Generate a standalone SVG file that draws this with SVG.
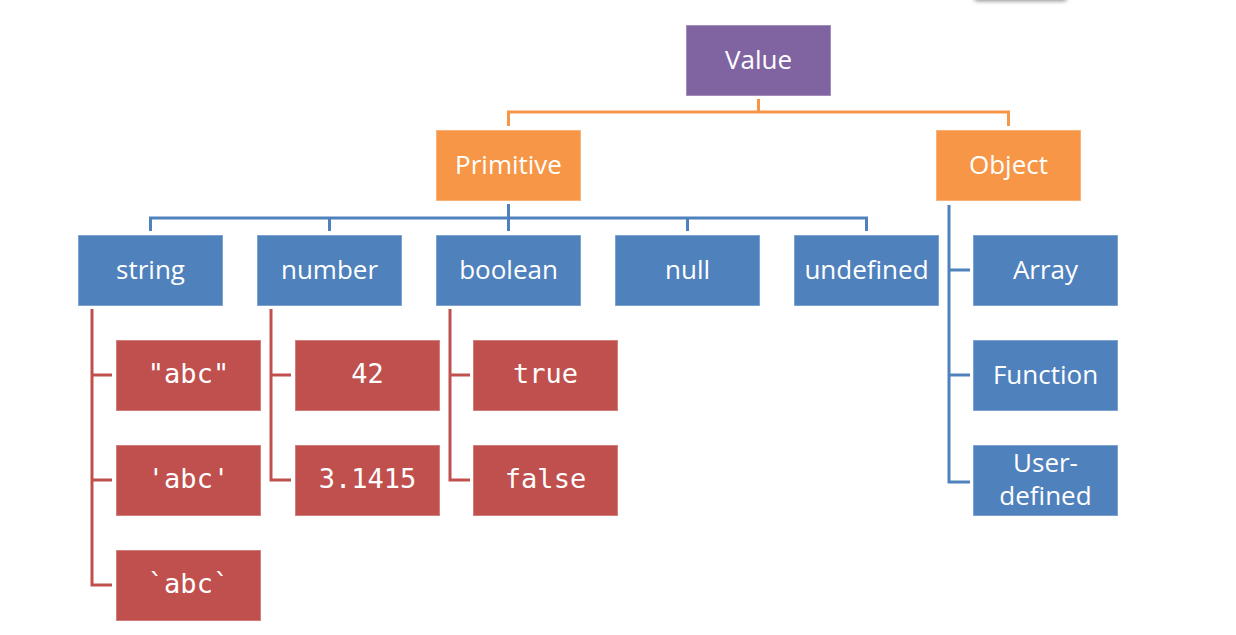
<svg xmlns="http://www.w3.org/2000/svg" width="1236" height="635" viewBox="0 0 1236 635">
<defs>
<style>
.box{stroke:#ffffff;stroke-opacity:0.35;stroke-width:1.5}
.purple{fill:#8064A2}
.orange{fill:#F79646}
.blue{fill:#4F81BD}
.red{fill:#C0504D}
.t{font-family:"Open Sans","Liberation Sans",sans-serif;font-size:26px;fill:#ffffff;text-anchor:middle}
.m{font-family:"DejaVu Sans Mono","Liberation Mono",monospace;font-size:27px;fill:#ffffff;text-anchor:middle}
.lo{fill:none;stroke:#F79646;stroke-width:3}
.lb{fill:none;stroke:#4F81BD;stroke-width:3}
.lr{fill:none;stroke:#C0504D;stroke-width:3}
</style>
<filter id="blur" x="-20%" y="-200%" width="140%" height="500%"><feGaussianBlur stdDeviation="2"/></filter>
</defs>
<rect width="1236" height="635" fill="#ffffff"/>
<rect x="974" y="-12" width="93" height="13" rx="4" fill="#8a8a8a" filter="url(#blur)"/>
<g id="connectors">
<path class="lo" d="M758.5 99V112M508.5 112H1008.5M508.5 110.5V126M1008.5 110.5V126"/>
<path class="lb" d="M508.5 204V218M150.5 218H866.5M150.5 216.5V231M329.5 216.5V231M508.5 216.5V231M687.5 216.5V231M866.5 216.5V231"/>
<path class="lb" d="M949 205V482H970M949 270H970M949 375H970"/>
<path class="lr" d="M92 309V585H112M92 375H112M92 480H112"/>
<path class="lr" d="M271 309V480H291M271 375H291"/>
<path class="lr" d="M450 309V480H470M450 375H470"/>
</g>
<g id="value"><rect class="box purple" x="686" y="25" width="145" height="71"/><text class="t" x="758.5" y="69">Value</text></g>
<g id="primitive"><rect class="box orange" x="436" y="130" width="145" height="71"/><text class="t" x="508.5" y="174">Primitive</text></g>
<g id="object"><rect class="box orange" x="936" y="130" width="145" height="71"/><text class="t" x="1008.5" y="174">Object</text></g>
<g id="string"><rect class="box blue" x="78" y="235" width="145" height="71"/><text class="t" x="150.5" y="279">string</text></g>
<g id="number"><rect class="box blue" x="257" y="235" width="145" height="71"/><text class="t" x="329.5" y="279">number</text></g>
<g id="boolean"><rect class="box blue" x="436" y="235" width="145" height="71"/><text class="t" x="508.5" y="279">boolean</text></g>
<g id="null"><rect class="box blue" x="615" y="235" width="145" height="71"/><text class="t" x="687.5" y="279">null</text></g>
<g id="undefined"><rect class="box blue" x="794" y="235" width="145" height="71"/><text class="t" x="866.5" y="279">undefined</text></g>
<g id="array"><rect class="box blue" x="973" y="235" width="145" height="71"/><text class="t" x="1045.5" y="279">Array</text></g>
<g id="function"><rect class="box blue" x="973" y="340" width="145" height="71"/><text class="t" x="1045.5" y="384">Function</text></g>
<g id="userdefined"><rect class="box blue" x="973" y="445" width="145" height="71"/><text class="t" x="1045.5" y="472">User-</text><text class="t" x="1045.5" y="505">defined</text></g>
<g id="dq"><rect class="box red" x="116" y="340" width="145" height="71"/><text class="m" x="188.5" y="383">"abc"</text></g>
<g id="sq"><rect class="box red" x="116" y="445" width="145" height="71"/><text class="m" x="188.5" y="488">'abc'</text></g>
<g id="bq"><rect class="box red" x="116" y="550" width="145" height="71"/><text class="m" x="188.5" y="593">`abc`</text></g>
<g id="n42"><rect class="box red" x="295" y="340" width="145" height="71"/><text class="m" x="367.5" y="383">42</text></g>
<g id="n314"><rect class="box red" x="295" y="445" width="145" height="71"/><text class="m" x="367.5" y="488">3.1415</text></g>
<g id="true"><rect class="box red" x="473" y="340" width="145" height="71"/><text class="m" x="545.5" y="383">true</text></g>
<g id="false"><rect class="box red" x="473" y="445" width="145" height="71"/><text class="m" x="545.5" y="488">false</text></g>
</svg>
